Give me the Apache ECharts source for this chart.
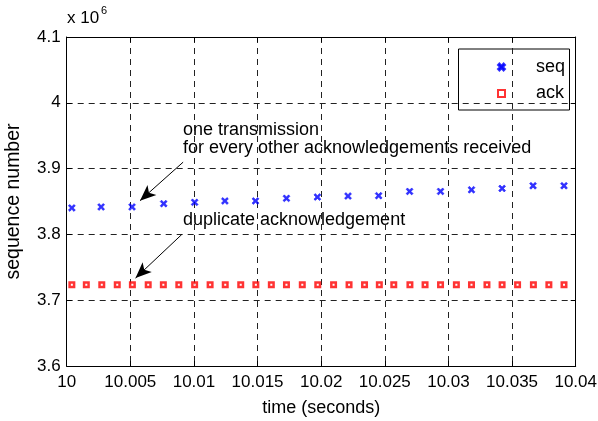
<!DOCTYPE html>
<html><head><meta charset="utf-8">
<script src="https://cdn.jsdelivr.net/npm/echarts@6/dist/echarts.min.js"></script>
<style>html,body{margin:0;padding:0;background:#fff}#c{width:598px;height:421px}</style>
</head><body><div id="c"></div>
<script>
// x 10^6 sequence numbers
const seqTime = [10.000405,10.002703,10.005135,10.007622,10.010054,10.012432,10.014838,10.017270,10.019703,10.022108,10.024514,10.026946,10.029378,10.031811,10.034216,10.036649,10.039081];
const seqValue = [3.8402,3.8417,3.8417,3.8467,3.8487,3.8508,3.8508,3.8548,3.8568,3.8583,3.8588,3.8653,3.8653,3.8678,3.8698,3.8739,3.8739];
const ackTime = [10.000405,10.001541,10.002757,10.003973,10.005162,10.006405,10.007595,10.008811,10.010054,10.011270,10.012459,10.013676,10.014865,10.016081,10.017270,10.018514,10.019730,10.020973,10.022189,10.023405,10.024568,10.025703,10.026973,10.028162,10.029378,10.030622,10.031811,10.033027,10.034216,10.035432,10.036676,10.037892,10.039081];
const ackValue = ackTime.map(() => 3.7235);
const xTicks = [10,10.005,10.01,10.015,10.02,10.025,10.03,10.035,10.04];
const yTicks = [3.6,3.7,3.8,3.9,4,4.1];
const seriesNames = ['seq','ack'];
const arrows = [
  {from:[10.00915,3.9098], to:[10.00576,3.8513]},
  {from:[10.00905,3.8000], to:[10.00541,3.7336]}
];

const FONT = '"Liberation Sans", Arial, sans-serif';
const chart = echarts.init(document.getElementById('c'), null, {renderer:'canvas'});
const dashed = {show:true, lineStyle:{color:'#222', width:1, type:[6,5]}};
const fmtX = v => String(+(+v).toFixed(3));
const fmtY = v => String(+(+v).toFixed(2));
const xBase = {type:'value', min:xTicks[0], max:xTicks[xTicks.length-1], interval:0.005};
const yBase = {type:'value', min:yTicks[0], max:yTicks[yTicks.length-1], interval:0.1};
const xPath = 'path://M0,2L2,0L5,3L8,0L10,2L7,5L10,8L8,10L5,7L2,10L0,8L3,5Z';

chart.setOption({
  animation:false,
  backgroundColor:'#fff',
  textStyle:{fontFamily:FONT},
  grid:{left:66.7, top:37, right:22.3, bottom:55, containLabel:false, outerBoundsMode:'none'},
  xAxis:[
    Object.assign({}, xBase, {
      position:'bottom',
      name:'time (seconds)', nameLocation:'middle', nameGap:33,
      nameTextStyle:{fontSize:18, color:'#000', fontFamily:FONT},
      axisLine:{show:true, onZero:false, lineStyle:{color:'#000', width:1}},
      axisTick:{show:true, inside:true, length:5, lineStyle:{color:'#000'}},
      axisLabel:{show:true, fontSize:17, color:'#000', margin:8, formatter:fmtX, fontFamily:FONT},
      splitLine:dashed
    }),
    Object.assign({}, xBase, {
      position:'top',
      axisLine:{show:true, onZero:false, lineStyle:{color:'#000', width:1}},
      axisTick:{show:true, inside:true, length:5, lineStyle:{color:'#000'}},
      axisLabel:{show:false}, splitLine:{show:false}
    })
  ],
  yAxis:[
    Object.assign({}, yBase, {
      position:'left',
      name:'sequence number', nameLocation:'middle', nameGap:43,
      nameTextStyle:{fontSize:19.5, color:'#000', fontFamily:FONT},
      axisLine:{show:true, onZero:false, lineStyle:{color:'#000', width:1}},
      axisTick:{show:true, inside:true, length:5, lineStyle:{color:'#000'}},
      axisLabel:{show:true, fontSize:17, color:'#000', margin:6, formatter:fmtY, fontFamily:FONT},
      splitLine:dashed
    }),
    Object.assign({}, yBase, {
      position:'right',
      axisLine:{show:true, onZero:false, lineStyle:{color:'#000', width:1}},
      axisTick:{show:true, inside:true, length:5, lineStyle:{color:'#000'}},
      axisLabel:{show:false}, splitLine:{show:false}
    })
  ],
  legend:{
    orient:'vertical', left:492, top:53, itemGap:8.5,
    itemWidth:7, itemHeight:7,
    data:seriesNames,
    textStyle:{fontSize:18, color:'#000', lineHeight:18, padding:[0,0,0,26], fontFamily:FONT}
  },
  graphic:[
    {type:'rect', left:456, top:46.5, shape:{width:111, height:61}, style:{fill:null, stroke:'#000', lineWidth:1}, z:-1},
    {type:'text', left:67, top:10, style:{text:'x 10', font:'17px '+FONT, fill:'#000'}},
    {type:'text', left:101, top:5, style:{text:'6', font:'11px '+FONT, fill:'#000'}},
    {type:'text', left:183, top:121, style:{text:'one transmission', font:'18px '+FONT, fill:'#000'}},
    {type:'text', left:183, top:139, style:{text:'for every other acknowledgements received', font:'18px '+FONT, fill:'#000'}},
    {type:'text', left:183, top:211, style:{text:'duplicate acknowledgement', font:'18px '+FONT, fill:'#000'}}
  ],
  series:[
    {
      name:seriesNames[0], type:'scatter', xAxisIndex:0, yAxisIndex:0,
      data:seqTime.map((t,i)=>[t, seqValue[i]]),
      symbol:xPath, symbolSize:7,
      itemStyle:{color:'#0000ff', borderColor:'#0000ff', borderWidth:0.6},
      markLine:{
        silent:true, symbol:['none','arrow'], symbolSize:[10,16],
        label:{show:false},
        lineStyle:{color:'#000', width:1, type:'solid'},
        data:arrows.map(a=>[{coord:a.from},{coord:a.to}])
      }
    },
    {
      name:seriesNames[1], type:'scatter', xAxisIndex:0, yAxisIndex:0,
      data:ackTime.map((t,i)=>[t, ackValue[i]]),
      symbol:'rect', symbolSize:4.5,
      itemStyle:{color:'#ffffff', borderColor:'#ff0000', borderWidth:2.5}
    }
  ]
});
</script></body></html>
